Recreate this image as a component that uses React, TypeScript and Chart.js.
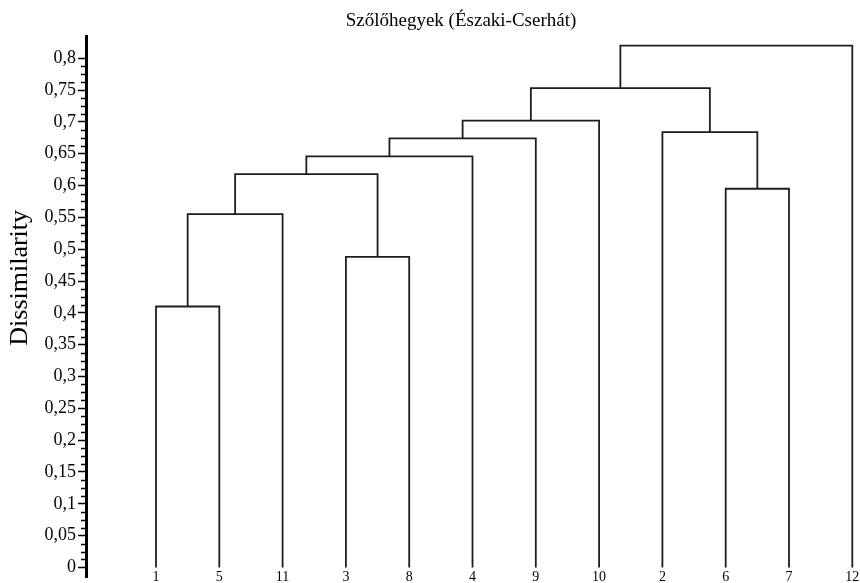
import { useEffect, useRef } from 'react';
import { Chart, registerables } from 'chart.js';

Chart.register(...registerables);

const chartTitle = 'Szőlőhegyek (Északi-Cserhát)';
const yAxisTitle = 'Dissimilarity';

// Leaves in display order (node ids 0..11)
const leafLabels = ['1', '5', '11', '3', '8', '4', '9', '10', '2', '6', '7', '12'];

// Merges: node ids 12.. are created in this order
const mergeLeft = [0, 12, 3, 13, 15, 16, 17, 9, 8, 18, 21];
const mergeRight = [1, 2, 4, 14, 5, 6, 7, 10, 19, 20, 11];
const mergeHeights = [0.41, 0.555, 0.488, 0.618, 0.646, 0.674, 0.702, 0.595, 0.684, 0.753, 0.82];

const yMajorTicks = [0, 0.05, 0.1, 0.15, 0.2, 0.25, 0.3, 0.35, 0.4, 0.45, 0.5, 0.55, 0.6, 0.65, 0.7, 0.75, 0.8];
const yMinorPerMajor = 3;

const FONT = "'Liberation Serif', 'Times New Roman', serif";
const LINE = '#1e1e1e';

function buildDatasets() {
  const nodeX: number[] = leafLabels.map((_, i) => i);
  const nodeH: number[] = leafLabels.map(() => 0);
  mergeLeft.forEach((l, k) => {
    const r = mergeRight[k];
    nodeX.push((nodeX[l] + nodeX[r]) / 2);
    nodeH.push(mergeHeights[k]);
  });
  return mergeLeft.map((l, k) => {
    const r = mergeRight[k];
    const h = mergeHeights[k];
    return {
      data: [
        { x: nodeX[l], y: nodeH[l] },
        { x: nodeX[l], y: h },
        { x: nodeX[r], y: h },
        { x: nodeX[r], y: nodeH[r] },
      ],
      showLine: true,
      borderColor: LINE,
      borderWidth: 1.8,
      pointRadius: 0,
      pointHoverRadius: 0,
      fill: false,
      tension: 0,
      clip: false as any,
    };
  });
}

const minorTicksPlugin = {
  id: 'minorTicks',
  afterDraw(chart: any) {
    const y = chart.scales.y;
    const ctx = chart.ctx;
    const left = chart.chartArea.left;
    ctx.save();
    ctx.strokeStyle = '#000';
    ctx.lineWidth = 1.5;
    for (let i = 0; i < yMajorTicks.length - 1; i++) {
      const a = yMajorTicks[i];
      const b = yMajorTicks[i + 1];
      for (let j = 1; j <= yMinorPerMajor; j++) {
        const v = a + ((b - a) * j) / (yMinorPerMajor + 1);
        const py = Math.round(y.getPixelForValue(v)) + 0.5;
        ctx.beginPath();
        ctx.moveTo(left - 5, py);
        ctx.lineTo(left, py);
        ctx.stroke();
      }
    }
    ctx.restore();
  },
};

const yTitlePlugin = {
  id: 'yTitle',
  afterDraw(chart: any) {
    const y = chart.scales.y;
    const ctx = chart.ctx;
    const area = chart.chartArea;
    ctx.save();
    ctx.translate(y.left + 20, area.top + area.height * 0.447);
    ctx.rotate(-Math.PI / 2);
    ctx.font = `26px ${FONT}`;
    ctx.fillStyle = '#000';
    ctx.textAlign = 'center';
    ctx.textBaseline = 'middle';
    ctx.fillText(yAxisTitle, 0, 0);
    ctx.restore();
  },
};

// shift the title box slightly left, as in the reference
const titleShiftPlugin = {
  id: 'titleShift',
  afterLayout(chart: any) {
    const tb = chart.titleBlock;
    if (tb) {
      tb.left -= 11;
      tb.right -= 11;
    }
  },
};

export default function App() {
  const ref = useRef<HTMLCanvasElement | null>(null);

  useEffect(() => {
    document.body.style.margin = '0';
    if (!ref.current) return;
    const chart = new Chart(ref.current, {
      type: 'scatter',
      data: { datasets: buildDatasets() as any },
      plugins: [minorTicksPlugin, yTitlePlugin, titleShiftPlugin],
      options: {
        animation: false,
        responsive: false,
        devicePixelRatio: 1,
        layout: { padding: { left: 0, right: 2, top: 0, bottom: 0 } },
        plugins: {
          legend: { display: false },
          tooltip: { enabled: false },
          title: {
            display: true,
            text: chartTitle,
            fullSize: false,
            color: '#000',
            font: { family: FONT, size: 19, weight: 'normal' },
            padding: { top: 10, bottom: 3.2 },
          },
        },
        scales: {
          x: {
            type: 'linear',
            min: -1.106,
            max: 11.09,
            afterBuildTicks: (s: any) => {
              s.ticks = leafLabels.map((_, i) => ({ value: i }));
            },
            afterFit: (s: any) => {
              s.height = 6;
              s.paddingLeft = 0;
              s.paddingRight = 0;
            },
            ticks: {
              autoSkip: false,
              maxRotation: 0,
              mirror: true,
              padding: -7,
              color: '#000',
              font: { family: FONT, size: 14, lineHeight: 1 },
              callback: (v: any) => leafLabels[Math.round(Number(v))] ?? '',
            },
            grid: { display: false, drawTicks: false },
            border: { display: false },
          },
          y: {
            type: 'linear',
            min: -0.015,
            max: 0.835,
            afterBuildTicks: (s: any) => {
              s.ticks = yMajorTicks.map((v) => ({ value: v }));
            },
            afterFit: (s: any) => {
              s.width = 86;
              s.paddingTop = 0;
              s.paddingBottom = 0;
            },
            ticks: {
              autoSkip: false,
              padding: 2,
              color: '#000',
              font: { family: FONT, size: 18 },
              callback: (v: any) => String(Number(Number(v).toFixed(3))).replace('.', ','),
            },
            grid: {
              drawOnChartArea: false,
              drawTicks: true,
              tickLength: 8,
              tickColor: '#000',
              tickWidth: 1.5,
            },
            border: { display: true, color: '#000', width: 3 },
          },
        },
      },
    });
    return () => chart.destroy();
  }, []);

  return (
    <div style={{ width: 860, height: 583 }}>
      <canvas ref={ref} width={860} height={583} />
    </div>
  );
}
